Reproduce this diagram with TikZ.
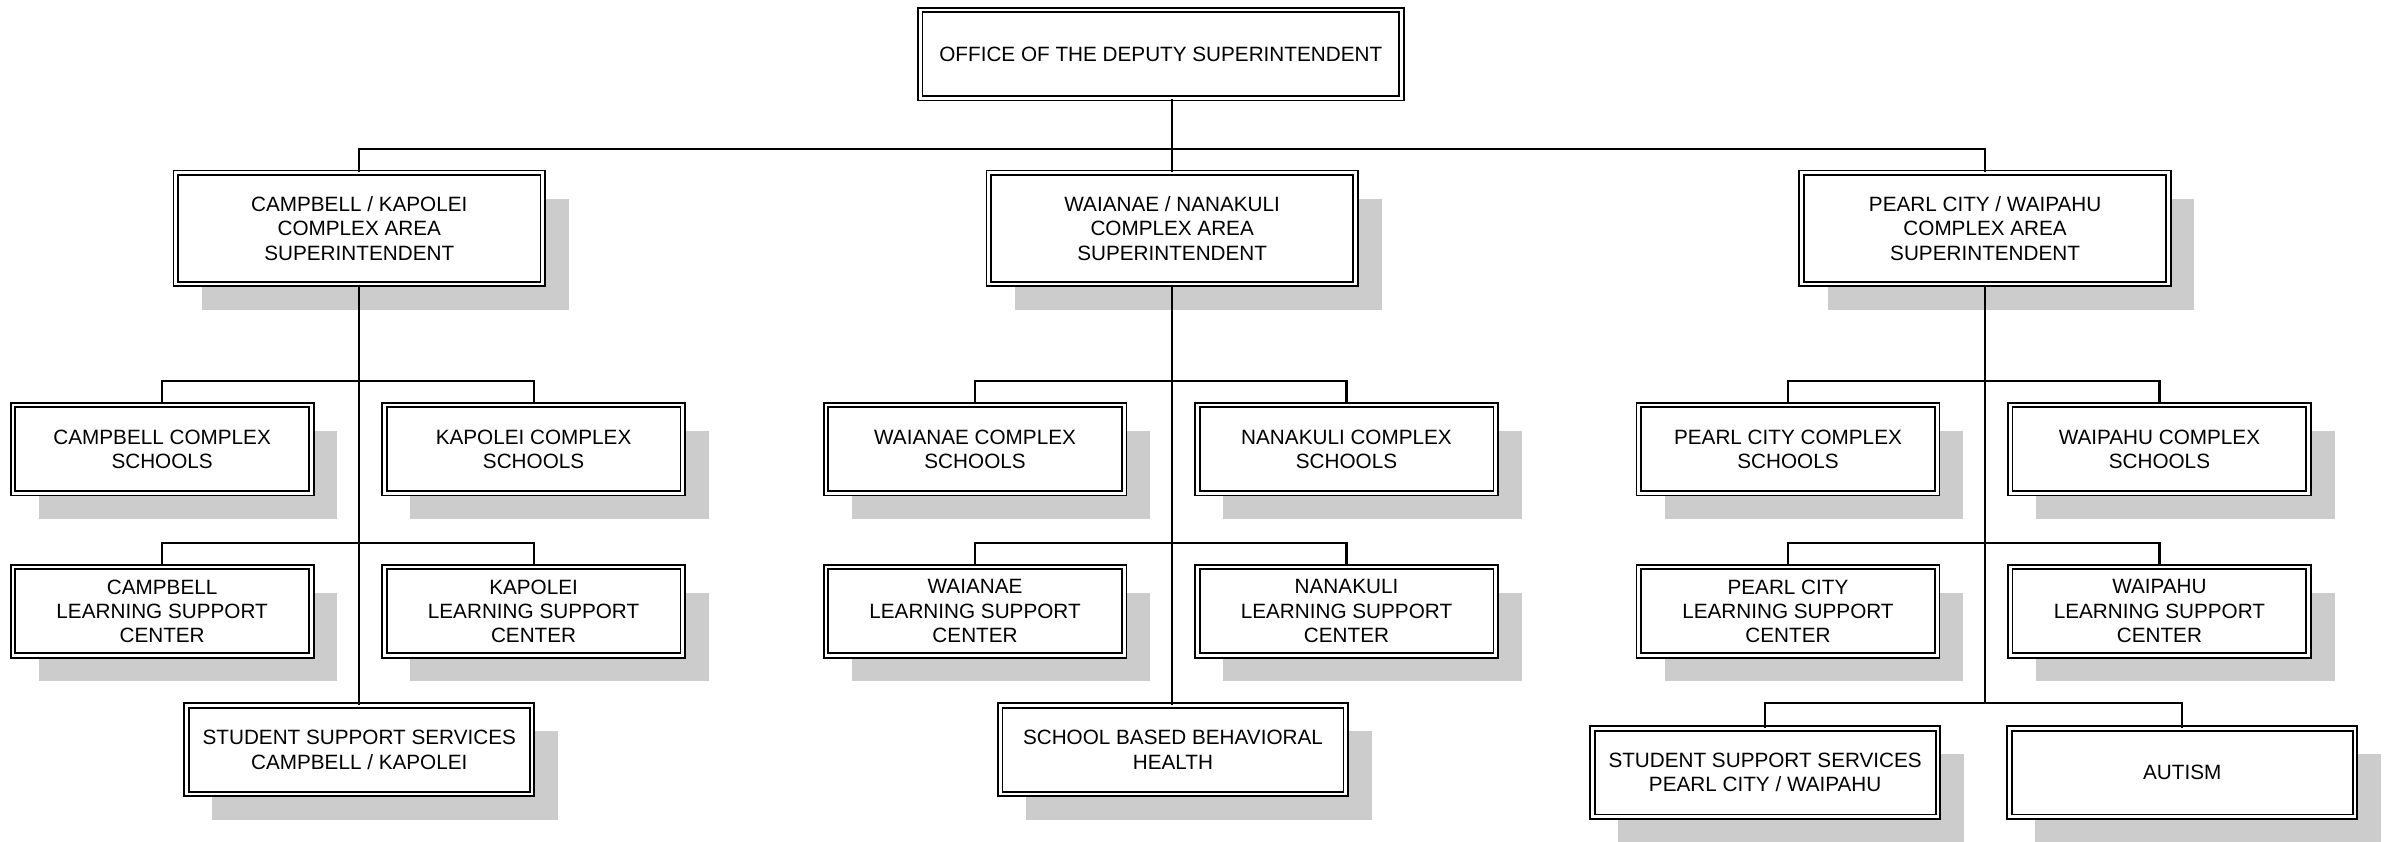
\documentclass[tikz,border=0pt]{standalone}
\usepackage{fontspec}
\setmainfont{Liberation Sans}
\usetikzlibrary{shadows}
\begin{document}
\begin{tikzpicture}[x=0.5pt,y=-0.5pt,
  box/.style={draw, double, line width=0.6pt, double distance=0.9pt, fill=white,
    align=center, font=\fontsize{6.8}{8}\selectfont, inner sep=1pt},
  shad/.style={drop shadow={shadow xshift=8.5pt, shadow yshift=-8.5pt, fill=black!20, opacity=1}},
  topbox/.style={box, minimum width=158pt, minimum height=29pt},
  lvltwo/.style={box, shad, minimum width=120.5pt, minimum height=36.5pt},
  small/.style={box, shad, minimum width=98pt, minimum height=29pt},
  wide/.style={box, shad, minimum width=113.5pt, minimum height=29pt},
  conn/.style={line width=0.7pt}]
\useasboundingbox (0,0) rectangle (1568,553);

\node[topbox] (top) at (762.5,35.5) {OFFICE OF THE DEPUTY SUPERINTENDENT};

\node[lvltwo] (L) at (236,150) {CAMPBELL / KAPOLEI\\COMPLEX AREA\\SUPERINTENDENT};
\node[lvltwo] (M) at (770,150) {WAIANAE / NANAKULI\\COMPLEX AREA\\SUPERINTENDENT};
\node[lvltwo] (R) at (1304,150) {PEARL CITY / WAIPAHU\\COMPLEX AREA\\SUPERINTENDENT};

\node[small] (cs) at (106.5,295) {CAMPBELL COMPLEX\\SCHOOLS};
\node[small] (ks) at (350.5,295) {KAPOLEI COMPLEX\\SCHOOLS};
\node[small] (ws) at (640.5,295) {WAIANAE COMPLEX\\SCHOOLS};
\node[small] (ns) at (884.5,295) {NANAKULI COMPLEX\\SCHOOLS};
\node[small] (ps) at (1174.5,295) {PEARL CITY COMPLEX\\SCHOOLS};
\node[small] (wps) at (1418.5,295) {WAIPAHU COMPLEX\\SCHOOLS};

\node[small] (cl) at (106.5,401.5) {CAMPBELL\\LEARNING SUPPORT\\CENTER};
\node[small] (kl) at (350.5,401.5) {KAPOLEI\\LEARNING SUPPORT\\CENTER};
\node[small] (wl) at (640.5,401.5) {WAIANAE\\LEARNING SUPPORT\\CENTER};
\node[small] (nl) at (884.5,401.5) {NANAKULI\\LEARNING SUPPORT\\CENTER};
\node[small] (pl) at (1174.5,401.5) {PEARL CITY\\LEARNING SUPPORT\\CENTER};
\node[small] (wpl) at (1418.5,401.5) {WAIPAHU\\LEARNING SUPPORT\\CENTER};

\node[wide] (sl) at (236,492.5) {STUDENT SUPPORT SERVICES\\CAMPBELL / KAPOLEI};
\node[wide] (sb) at (770.5,492.5) {SCHOOL BASED BEHAVIORAL\\HEALTH};
\node[wide] (sr) at (1159.5,507.5) {STUDENT SUPPORT SERVICES\\PEARL CITY / WAIPAHU};
\node[wide] (au) at (1433.5,507.5) {AUTISM};

\coordinate (rj) at (1304,462);

% top level
\draw[conn] (top.south -| M.north) -- (M.north);
\draw[conn] (L.north) -- ++(0,-15) -| (R.north);

% trunks
\draw[conn] (L.south) -- (sl.north);
\draw[conn] (M.south) -- (M.south |- sb.north);
\draw[conn] (R.south) -- (rj);

% branches
\draw[conn] (cs.north) -- ++(0,-15) -| (ks.north);
\draw[conn] (cl.north) -- ++(0,-15) -| (kl.north);
\draw[conn] (ws.north) -- ++(0,-15) -| (ns.north);
\draw[conn] (wl.north) -- ++(0,-15) -| (nl.north);
\draw[conn] (ps.north) -- ++(0,-15) -| (wps.north);
\draw[conn] (pl.north) -- ++(0,-15) -| (wpl.north);
\draw[conn] (sr.north) |- (rj) -| (au.north);
\end{tikzpicture}
\end{document}
